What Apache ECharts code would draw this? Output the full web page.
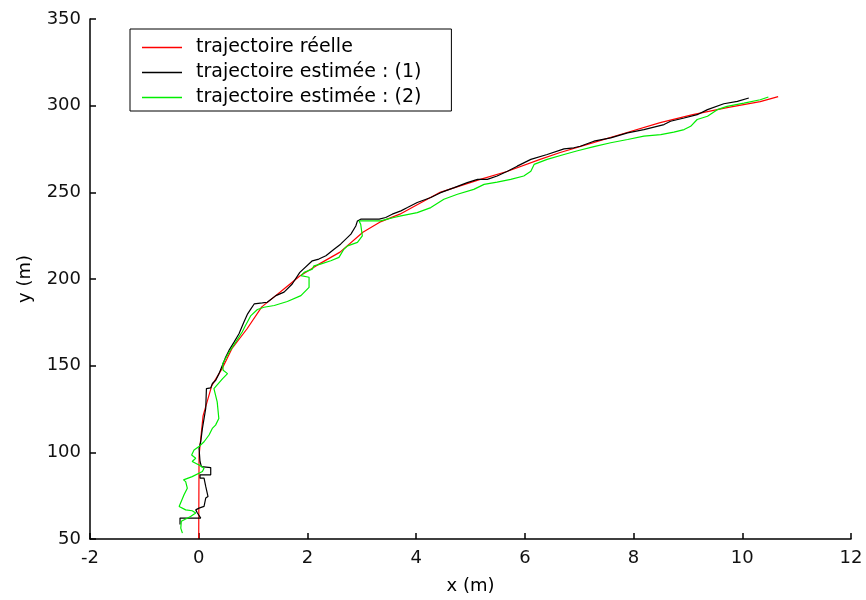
<!DOCTYPE html>
<html>
<head>
<meta charset="utf-8">
<script src="https://cdn.jsdelivr.net/npm/echarts@6/dist/echarts.min.js"></script>
<style>
    html, body { margin: 0; padding: 0; background: #fff; }
    #chart { width: 866px; height: 600px; }
</style>
</head>
<body>
<div id="chart"></div>
<script>
// noms des séries (légende)
var seriesNames = ["trajectoire réelle", "trajectoire estimée : (1)", "trajectoire estimée : (2)"];

// trajectoire réelle [x, y]
var reelle = [
    [0, 50.5], [0.006, 98], [0.08, 121], [0.24, 138.5], [0.43, 148.3], [0.52, 154], [0.61, 159.8],
    [0.89, 171.3], [1.16, 183.9], [1.5, 192.5], [1.86, 201.7], [2.18, 208], [2.6, 215.5], [3.02, 227],
    [3.33, 232.8], [3.7, 237.4], [4.44, 250], [5.18, 257.5], [5.67, 262], [6.28, 269], [6.65, 273],
    [7.26, 278.7], [7.88, 284.5], [8.49, 290.2], [9.09, 294.8], [9.72, 298.9], [10.33, 302.3], [10.66, 305.2]
];

// trajectoire estimée (1)
var estimee1 = [
    [-0.344, 58.3], [-0.344, 62.1], [0.037, 62.1], [-0.024, 65.0], [-0.055, 66.8], [0.006, 67.8],
    [0.098, 68.8], [0.129, 73.6], [0.171, 74.5], [0.129, 80.3], [0.098, 81.2], [0.098, 85.1],
    [0.024, 85.1], [0.024, 87.0], [0.221, 87.0], [0.221, 91.2], [0.05, 91.8], [0.024, 94.7],
    [0.006, 102.3], [0.037, 106.1], [0.068, 113.8], [0.098, 119.5], [0.129, 125.3], [0.142, 136.8],
    [0.221, 137.2], [0.252, 139.7], [0.313, 141.6], [0.373, 145.4], [0.436, 150.2], [0.497, 155.0],
    [0.557, 158.8], [0.65, 163.6], [0.741, 168.4], [0.83, 175.1], [0.9, 179.9], [0.96, 182.8],
    [1.02, 185.6], [1.17, 186.2], [1.26, 186.6], [1.42, 190.4], [1.57, 192.4], [1.72, 197.1],
    [1.86, 203.8], [2.09, 210.5], [2.21, 211.5], [2.34, 213.4], [2.49, 217.2], [2.61, 220.1],
    [2.80, 225.9], [2.89, 230.6], [2.92, 233.5], [2.98, 234.5], [3.32, 234.5], [3.44, 235.5],
    [3.56, 237.4], [3.72, 239.3], [3.84, 241.2], [4.02, 244.1], [4.27, 247], [4.45, 249.8],
    [4.70, 252.7], [4.94, 255.6], [5.13, 257.5], [5.31, 257.5], [5.49, 259.4], [5.68, 262.2],
    [5.86, 265.1], [6.11, 269], [6.41, 271.8], [6.72, 275.1], [6.90, 275.7], [7.02, 276.6],
    [7.27, 279.5], [7.58, 281.4], [7.89, 284.3], [8.19, 286.2], [8.56, 289.1], [8.68, 291],
    [8.93, 292.9], [9.17, 294.8], [9.36, 297.7], [9.66, 301.1], [9.91, 302.5], [10.12, 304.4]
];

// trajectoire estimée (2)
var estimee2 = [
    [-0.30, 53.4], [-0.33, 56.3], [-0.32, 60.2], [-0.15, 63], [-0.055, 65], [-0.12, 66.3],
    [-0.24, 66.8], [-0.36, 68.8], [-0.27, 75.5], [-0.21, 79.3], [-0.24, 83.1], [-0.28, 84.1],
    [-0.12, 86], [0.068, 88.9], [0.098, 90.8], [0.006, 92.7], [-0.12, 94.7], [-0.055, 96.6],
    [-0.13, 98.5], [-0.086, 101.3], [0.006, 103.3], [0.098, 106.1], [0.19, 110], [0.25, 113.8],
    [0.31, 115.7], [0.37, 119.5], [0.34, 129.1], [0.28, 136.8], [0.44, 142.5], [0.53, 145.4],
    [0.45, 147.3], [0.44, 151.1], [0.56, 157.9], [0.68, 163.6], [0.80, 169.4], [0.86, 173.2],
    [0.96, 178.9], [1.08, 182.4], [1.20, 183.7], [1.39, 184.7], [1.63, 187], [1.88, 190.4],
    [2.03, 195.2], [2.03, 201], [1.88, 201.9], [1.94, 203.8], [2.09, 205.7], [2.12, 207.6],
    [2.24, 208.6], [2.43, 210.5], [2.58, 212.5], [2.67, 217.2], [2.74, 219.1], [2.92, 221.1],
    [3.01, 224.9], [2.98, 231.6], [2.95, 233.5], [3.10, 233.5], [3.35, 233.5], [3.47, 234.5],
    [3.59, 235.5], [3.72, 236.4], [4.02, 238.3], [4.27, 241.2], [4.51, 246], [4.76, 248.9],
    [5.06, 251.7], [5.25, 254.6], [5.49, 255.9], [5.74, 257.5], [5.98, 259.4], [6.11, 262.2],
    [6.17, 266.1], [6.41, 269], [6.72, 271.8], [6.97, 274], [7.27, 276.4], [7.58, 278.6],
    [7.89, 280.5], [8.19, 282.4], [8.50, 283.3], [8.74, 284.7], [8.93, 286.2], [9.05, 288.1],
    [9.17, 292], [9.36, 293.9], [9.54, 297.7], [9.72, 299.6], [10.03, 301.5], [10.33, 303.4], [10.48, 305]
];

var seriesColors = ["#ff0000", "#000000", "#00ee00"];
var seriesData = [reelle, estimee1, estimee2];

var myChart = echarts.init(document.getElementById("chart"));

var series = [];
for (var i = 0; i < seriesNames.length; i++) {
    series.push({
        name: seriesNames[i],
        type: "line",
        data: seriesData[i],
        showSymbol: false,
        animation: false,
        lineStyle: { color: seriesColors[i], width: 1.2 },
        itemStyle: { color: seriesColors[i] }
    });
}

var font = "DejaVu Sans, sans-serif";

var option = {
    backgroundColor: "#fff",
    animation: false,
    grid: { left: 90, right: 15, top: 19, bottom: 59 },
    legend: {
        orient: "vertical",
        left: 130,
        top: 29,
        icon: "rect",
        itemWidth: 40,
        itemHeight: 1.5,
        itemGap: 6,
        padding: [9, 30, 4, 12],
        borderColor: "#000",
        borderWidth: 1,
        backgroundColor: "#fff",
        data: seriesNames,
        textStyle: { fontFamily: font, fontSize: 19, color: "#000", padding: [0, 0, 0, 9] }
    },
    xAxis: {
        type: "value",
        min: -2,
        max: 12,
        interval: 2,
        name: "x (m)",
        nameLocation: "middle",
        nameGap: 38,
        nameTextStyle: { fontFamily: font, fontSize: 18, color: "#000" },
        axisLine: { onZero: false, lineStyle: { color: "#000", width: 1.5 } },
        axisTick: { inside: true, length: 6, lineStyle: { color: "#000", width: 1.5 } },
        axisLabel: { fontFamily: font, fontSize: 18, color: "#111", margin: 10 },
        splitLine: { show: false }
    },
    yAxis: {
        type: "value",
        min: 50,
        max: 350,
        interval: 50,
        name: "y (m)",
        nameLocation: "middle",
        nameGap: 56,
        nameTextStyle: { fontFamily: font, fontSize: 18, color: "#000" },
        axisLine: { show: true, onZero: false, lineStyle: { color: "#000", width: 1.5 } },
        axisTick: { show: true, inside: true, length: 6, lineStyle: { color: "#000", width: 1.5 } },
        axisLabel: { fontFamily: font, fontSize: 18, color: "#111", margin: 9 },
        splitLine: { show: false }
    },
    series: series
};

myChart.setOption(option);
</script>
</body>
</html>
